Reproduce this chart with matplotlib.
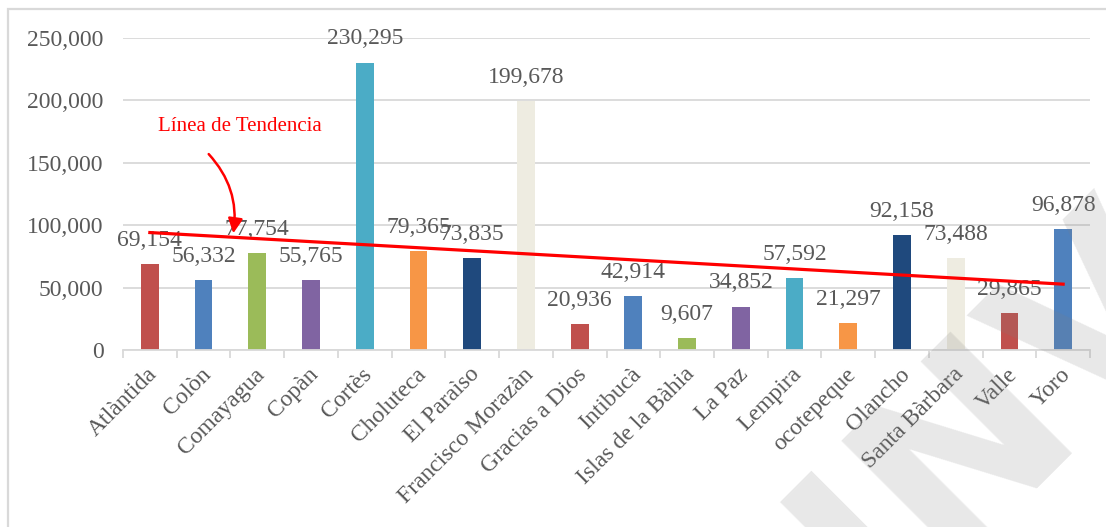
import numpy as np
import matplotlib.pyplot as plt
from matplotlib.patches import Rectangle
from matplotlib.transforms import ScaledTranslation

departamentos = ['Atlàntida', 'Colòn', 'Comayagua', 'Copàn', 'Cortès', 'Choluteca',
                 'El Paraìso', 'Francisco Morazàn', 'Gracias a Dios', 'Intibucà',
                 'Islas de la Bàhia', 'La Paz', 'Lempira', 'ocotepeque', 'Olancho',
                 'Santa Bàrbara', 'Valle', 'Yoro']
valores = [69154, 56332, 77754, 55765, 230295, 79365, 73835, 199678, 20936,
           42914, 9607, 34852, 57592, 21297, 92158, 73488, 29865, 96878]
paleta = ['#C0504D', '#4F81BD', '#9BBB59', '#8064A2', '#4BACC6', '#F79646',
          '#1F497D', '#EEECE1']
yticks = [0, 50000, 100000, 150000, 200000, 250000]

plt.rcParams['font.family'] = ['Liberation Serif', 'DejaVu Serif']
gris = '#595959'
rejilla = '#D9D9D9'

fig = plt.figure(figsize=(11.06, 5.27), dpi=100)
ax = fig.add_axes([123/1106, 1 - 350/527, (1090-123)/1106, (350-38)/527])

x = np.arange(len(departamentos))
colores = [paleta[i % len(paleta)] for i in x]
barras = ax.bar(x, valores, width=0.33, color=colores, zorder=2)

# etiquetas de datos
for xi, v in zip(x, valores):
    ax.annotate(f'{v:,}', (xi, v), xytext=(0, 17), textcoords='offset points',
                ha='center', va='center', fontsize=17, color=gris, zorder=3)

# linea de tendencia (regresion lineal)
m, b = np.polyfit(x, valores, 1)
ax.plot([x[0], x[-1]], [m*x[0] + b, m*x[-1] + b], color='red', lw=2.3, zorder=4)

ax.text(1.675, 178700, 'Línea de Tendencia', color='red', fontsize=15,
        ha='center', va='center')
ax.annotate('', xy=(1.545, 91300), xytext=(1.06, 158600),
            arrowprops=dict(arrowstyle='-|>', color='red', lw=1.8,
                            mutation_scale=22,
                            connectionstyle='arc3,rad=-0.25'), zorder=5)

ax.set_xlim(-0.5, len(departamentos) - 0.5)
ax.set_ylim(0, 250000)
ax.set_yticks(yticks)
ax.set_yticklabels([f'{t:,}' for t in yticks])
ax.tick_params(axis='y', length=0, pad=14, labelsize=17, labelcolor=gris)
ax.yaxis.grid(True, color=rejilla, lw=1.3, zorder=0)
ax.set_axisbelow(True)

ax.set_xticks(x)
ax.set_xticklabels(departamentos, rotation=45, ha='right', va='top',
                   rotation_mode='anchor', fontsize=17, color=gris)
ax.set_xticks(np.arange(-0.5, len(departamentos)), minor=True)
ax.tick_params(axis='x', which='major', length=0, pad=10)
ax.tick_params(axis='x', which='minor', length=6, color=rejilla, width=1.3)
desplazar = ScaledTranslation(-3/100, 0, fig.dpi_scale_trans)
for lab in ax.get_xticklabels():
    lab.set_transform(lab.get_transform() + desplazar)

for s in ['top', 'right', 'left']:
    ax.spines[s].set_visible(False)
ax.spines['bottom'].set_color(rejilla)
ax.spines['bottom'].set_linewidth(1.3)

# marco del grafico
fig.patches.append(Rectangle((8/1106, -0.1), 1.2, 1 - 9/527 + 0.1,
                             transform=fig.transFigure, fill=False,
                             ec=rejilla, lw=1.6))

# marca de agua
fig.text(880/1106, 1 - 624/527, 'INVALIDO', rotation=45, rotation_mode='anchor',
         ha='left', va='baseline', fontsize=170, fontweight='bold',
         family='DejaVu Sans', color='gray', alpha=0.18, zorder=10)

fig.savefig('out.png', dpi=100)
